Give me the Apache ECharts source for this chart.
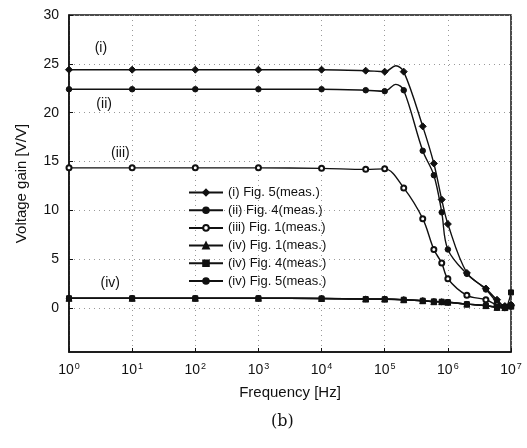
<!DOCTYPE html>
<html>
<head>
<meta charset="utf-8">
<script src="https://cdn.jsdelivr.net/npm/echarts@6/dist/echarts.min.js"></script>
<style>
  html, body { margin: 0; padding: 0; background: #fff; }
  #chart { width: 527px; height: 448px; }
</style>
</head>
<body>
<div id="chart"></div>
<script>
var dom = document.getElementById('chart');
var myChart = echarts.init(dom);

// measured frequencies [Hz]
var freqA = [1, 10, 100, 1e3, 1e4, 5e4, 1e5, 1.5e5, 2e5, 4e5, 6e5, 8e5, 1e6, 2e6, 4e6, 6e6, 8e6, 1e7];
var freqB = [1, 10, 100, 1e3, 1e4, 5e4, 1e5, 2e5, 4e5, 6e5, 8e5, 1e6, 2e6, 4e6, 6e6, 8e6, 1e7];
var curveOnly = [1.5e5]; // points on the curve without a marker (overshoot)

// voltage gain [V/V]
var gainI_fig5 = [24.4, 24.4, 24.4, 24.4, 24.4, 24.3, 24.2, 24.8, 24.2, 18.6, 14.8, 11.1, 8.6, 3.6, 2.0, 0.85, 0.2, 0.3];
var gainII_fig4 = [22.4, 22.4, 22.4, 22.4, 22.4, 22.3, 22.2, 22.9, 22.3, 16.1, 13.6, 9.8, 6.0, 3.5, 1.9, 0.6, 0.1, 0.3];
var gainIII_fig1 = [14.35, 14.35, 14.35, 14.35, 14.3, 14.2, 14.25, 12.3, 9.15, 6.0, 4.6, 3.0, 1.3, 0.85, 0.3, 0.1, 0.2];
var gainIV_fig1 = [1.0, 1.0, 1.0, 1.0, 0.98, 0.92, 0.92, 0.85, 0.75, 0.65, 0.65, 0.6, 0.4, 0.25, 0.07, 0.05, 0.2];
var gainIV_fig4 = [1.0, 1.0, 1.0, 1.0, 0.98, 0.92, 0.9, 0.85, 0.75, 0.68, 0.65, 0.6, 0.4, 0.25, 0.1, 0.1, 1.6];
var gainIV_fig5 = [1.0, 1.0, 1.0, 1.0, 0.98, 0.93, 0.92, 0.85, 0.75, 0.65, 0.62, 0.6, 0.4, 0.25, 0.05, 0.0, 0.3];

var yTicks = [0, 5, 10, 15, 20, 25, 30];

// curve labels: [name, freq, gain]
var curveTags = [['(i)', 3.2, 26.6], ['(ii)', 3.6, 20.9], ['(iii)', 6.5, 15.9], ['(iv)', 4.5, 2.5]];

var FONT = 'Liberation Sans';

function pts(freq, gain) {
    return freq.map(function (f, i) {
        var d = { value: [f, gain[i]] };
        if (curveOnly.indexOf(f) >= 0) d.symbol = 'none';
        return d;
    });
}

function line(name, freq, gain, symbol, size, tag) {
    var s = {
        name: name,
        type: 'line',
        smooth: 0.35,
        data: pts(freq, gain),
        symbol: symbol,
        symbolSize: size,
        showAllSymbol: true,
        lineStyle: { color: '#111', width: 1.4 },
        itemStyle: { color: '#111', borderColor: '#111', borderWidth: 1 },
        z: 3
    };
    if (tag) {
        s.markPoint = {
            symbol: 'circle', symbolSize: 0, silent: true,
            label: { show: true, position: 'inside', formatter: tag[0], color: '#111', fontFamily: FONT, fontSize: 14 },
            data: [{ coord: [tag[1], tag[2]] }]
        };
    }
    return s;
}

option = {
    backgroundColor: '#fff',
    animation: false,
    textStyle: { fontFamily: FONT },
    grid: {
        left: 69, right: 16, top: 15, bottom: 96,
        show: true, borderColor: '#111', borderWidth: 1.5, backgroundColor: 'transparent'
    },
    legend: {
        orient: 'vertical',
        left: 183, top: 181,
        itemWidth: 34, itemHeight: 7, itemGap: 4.7,
        textStyle: { fontFamily: FONT, fontSize: 13, color: '#111' },
        data: ['(i) Fig. 5(meas.)', '(ii) Fig. 4(meas.)', '(iii) Fig. 1(meas.)', '(iv) Fig. 1(meas.)', '(iv) Fig. 4(meas.)', '(iv) Fig. 5(meas.)']
    },
    xAxis: {
        type: 'log',
        logBase: 10,
        min: 1, max: 1e7,
        name: 'Frequency [Hz]',
        nameLocation: 'middle',
        nameGap: 33,
        nameTextStyle: { fontFamily: FONT, fontSize: 15, color: '#111' },
        axisLine: { onZero: false, lineStyle: { color: '#111', width: 1.5 } },
        axisTick: { inside: true, length: 4, lineStyle: { color: '#111' } },
        minorTick: { show: false },
        splitLine: { show: true, lineStyle: { color: '#999', type: [1, 4], width: 1 } },
        axisLabel: {
            margin: 10,
            formatter: function (v) {
                var n = Math.round(Math.log10(v));
                return '{b|10}{s|' + n + '}';
            },
            rich: {
                b: { fontFamily: FONT, fontSize: 14, color: '#111' },
                s: { fontFamily: FONT, fontSize: 9, color: '#111', padding: [0, 0, 8, 1] }
            }
        }
    },
    yAxis: {
        type: 'value',
        min: -4.5, max: 30,
        name: 'Voltage gain [V/V]',
        nameLocation: 'middle',
        nameGap: 40,
        nameTextStyle: { fontFamily: FONT, fontSize: 15, color: '#111' },
        axisLine: { show: true, onZero: false, lineStyle: { color: '#111', width: 1.5 } },
        axisTick: { show: true, inside: true, length: 4, customValues: yTicks, lineStyle: { color: '#111' } },
        splitLine: { show: true, lineStyle: { color: '#999', type: [1, 4], width: 1 } },
        axisLabel: { customValues: yTicks, fontFamily: FONT, fontSize: 14, color: '#111', margin: 10 }
    },
    graphic: [{
        type: 'text',
        left: 271, top: 414,
        style: { text: '(b)', font: '16px "DejaVu Serif", serif', fill: '#111' }
    }],
    series: [
        line('(i) Fig. 5(meas.)', freqA, gainI_fig5, 'diamond', 7, curveTags[0]),
        line('(ii) Fig. 4(meas.)', freqA, gainII_fig4, 'circle', 5.5, curveTags[1]),
        line('(iii) Fig. 1(meas.)', freqB, gainIII_fig1, 'emptyCircle', 5, curveTags[2]),
        line('(iv) Fig. 1(meas.)', freqB, gainIV_fig1, 'triangle', 6, curveTags[3]),
        line('(iv) Fig. 4(meas.)', freqB, gainIV_fig4, 'rect', 5, null),
        line('(iv) Fig. 5(meas.)', freqB, gainIV_fig5, 'circle', 5.5, null)
    ]
};
if (option && typeof option === "object") {
    myChart.setOption(option, true);
}
</script>
</body>
</html>
